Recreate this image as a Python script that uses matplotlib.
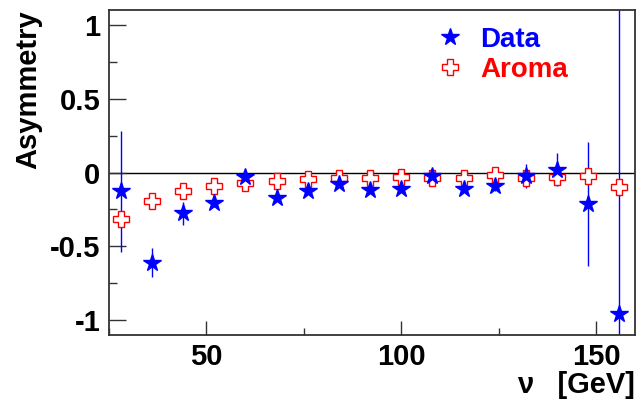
import numpy as np
import matplotlib
matplotlib.use("Agg")
import matplotlib.pyplot as plt
from matplotlib.ticker import MultipleLocator

# nu bins [GeV]
nu = [28, 36, 44, 52, 60, 68, 76, 84, 92, 100, 108, 116, 124, 132, 140, 148, 156]

# measured asymmetry (blue stars) and its errors
data_asym = [-0.126, -0.61, -0.277, -0.205, -0.03, -0.175, -0.124, -0.081, -0.119,
             -0.11, -0.025, -0.11, -0.092, -0.025, 0.02, -0.214, -0.955]
data_err = [0.41, 0.10, 0.08, 0.03, 0.03, 0.02, 0.02, 0.02, 0.02,
            0.02, 0.04, 0.02, 0.03, 0.08, 0.11, 0.42, 2.5]

# Aroma MC (red open crosses)
aroma_asym = [-0.315, -0.19, -0.126, -0.09, -0.074, -0.057, -0.043, -0.04, -0.034,
              -0.03, -0.034, -0.036, -0.018, -0.04, -0.03, -0.025, -0.10]

plt.rcParams['font.family'] = ['Liberation Sans', 'DejaVu Sans']
plt.rcParams['font.weight'] = 'bold'

fig = plt.figure(figsize=(6.37, 4.0), dpi=100)
ax = fig.add_axes([0.171, 0.1625, 0.826, 0.8125])

ax.axhline(0, color='black', lw=1.0, zorder=1)

ax.errorbar(nu, data_asym, yerr=data_err, fmt='none', ecolor='blue', elinewidth=1.0, zorder=2)
ax.plot(nu, aroma_asym, linestyle='none', marker='P', ms=11, mfc='white', mec='red',
        mew=1.0, zorder=3, label='Aroma')
ax.plot(nu, data_asym, linestyle='none', marker='*', ms=13, color='blue',
        mec='blue', zorder=4, label='Data')

ax.set_xlim(25, 160)
ax.set_ylim(-1.1, 1.1)

ax.xaxis.set_major_locator(MultipleLocator(50))
ax.xaxis.set_minor_locator(MultipleLocator(25))
ax.yaxis.set_major_locator(MultipleLocator(0.5))
ax.yaxis.set_minor_locator(MultipleLocator(0.25))
ax.set_yticks([-1, -0.5, 0, 0.5, 1])
ax.set_yticklabels(['-1', '-0.5', '0', '0.5', '1'])

ax.tick_params(which='both', direction='in', top=False, right=False,
               labelsize=21, width=1.0, color='#333333')
ax.tick_params(axis='y', which='major', length=12, pad=6)
ax.tick_params(axis='y', which='minor', length=6)
ax.tick_params(axis='x', which='major', length=10, pad=6)
ax.tick_params(axis='x', which='minor', length=5)
for lab in ax.get_xticklabels() + ax.get_yticklabels():
    lab.set_fontweight('bold')

for sp in ax.spines.values():
    sp.set_linewidth(1.3)
    sp.set_color('#333333')

ax.set_ylabel('Asymmetry', fontsize=21, fontweight='bold', loc='top', labelpad=6)
ax.set_xlabel('ν   [GeV]', fontsize=21, fontweight='bold', loc='right', labelpad=0)

handles, labels = ax.get_legend_handles_labels()
leg = ax.legend(handles[::-1], labels[::-1], loc='upper left', bbox_to_anchor=(0.59, 1.0),
                frameon=False, fontsize=20, handletextpad=0.6, labelspacing=0.15,
                handlelength=1.0, borderaxespad=0.2)
for txt, c in zip(leg.get_texts(), ['blue', 'red']):
    txt.set_color(c)
    txt.set_fontweight('bold')

fig.savefig('out.png', dpi=100)
